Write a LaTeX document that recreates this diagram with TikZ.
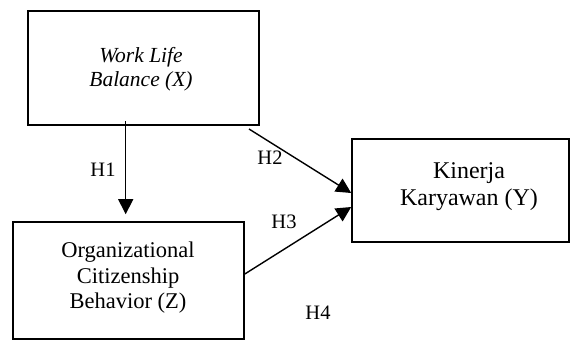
\documentclass[tikz,border=0pt]{standalone}
\usepackage{fontspec}
\setmainfont{Liberation Serif}
\usetikzlibrary{arrows.meta}
\begin{document}
\begin{tikzpicture}[x=1pt,y=-1pt,
  box/.style={draw,line width=1.6pt,rectangle,inner sep=0pt},
  boxtext/.style={align=center,inner sep=0pt},
  hlabel/.style={inner sep=0pt,font=\fontsize{20.5}{24}\selectfont},
  arr/.style={line width=1.4pt,-{Triangle[length=15pt,width=15pt]}}]
\useasboundingbox (0,0) rectangle (571,340);
% boxes
\node[box,minimum width=231pt,minimum height=114pt] (X) at (143.5,68) {};
\node[box,minimum width=231pt,minimum height=117pt] (Z) at (128.5,280.5) {};
\node[box,minimum width=217pt,minimum height=103pt] (Y) at (460.5,190.5) {};
% texts
\node[boxtext,font=\fontsize{21.5}{24.5}\selectfont\itshape] (Xt) at (141,69) {Work Life\\Balance (X)};
\node[boxtext,font=\fontsize{22.5}{25.5}\selectfont] (Zt) at (128,278) {Organizational\\Citizenship\\Behavior (Z)};
\node[boxtext,font=\fontsize{24}{27}\selectfont] (Yt) at (469,187) {Kinerja\\Karyawan (Y)};
% connectors
\coordinate (h1s) at (125.7,121);
\coordinate (h2s) at (249,129);
\draw[arr,shorten >=7pt] (h1s) -- (Z.north -| h1s);
\draw[arr] (h2s) -- (Y.west |- 0,193);
\draw[arr] (Z.east |- 0,274) -- (Y.west |- 0,207);
% labels
\node[hlabel] (H1) at (103,170) {H1};
\node[hlabel] (H2) at (270,158) {H2};
\node[hlabel] (H3) at (284,222) {H3};
\node[hlabel] (H4) at (318,313) {H4};
\end{tikzpicture}
\end{document}
